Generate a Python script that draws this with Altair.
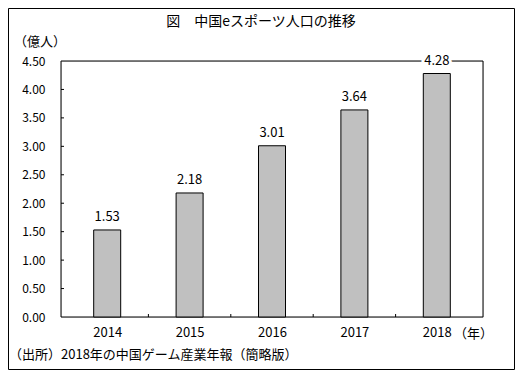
import altair as alt
import pandas as pd

years = [2014, 2015, 2016, 2017, 2018]
values = [1.53, 2.18, 3.01, 3.64, 4.28]
y_tick_values = [0.0, 0.5, 1.0, 1.5, 2.0, 2.5, 3.0, 3.5, 4.0, 4.5]
inner_y_ticks = [0.5, 1.0, 1.5, 2.0, 2.5, 3.0, 3.5, 4.0]
x_boundaries = [2014.5, 2015.5, 2016.5, 2017.5]

title_text = "図\u3000中国eスポーツ人口の推移"
unit_y = "（億人）"
unit_x = "（年）"
source_text = "（出所）2018年の中国ゲーム産業年報（簡略版）"

FONT = "Noto Sans CJK JP"
W, H = 422, 256
PL, PT, PR, PB = 53, 53, 32, 53

df = pd.DataFrame({"year": years, "value": values})
df_yt = pd.DataFrame({"v": inner_y_ticks})
df_xb = pd.DataFrame({"b": x_boundaries})
one = pd.DataFrame({"a": [0]})

xscale = alt.Scale(domain=[2013.5, 2018.5], nice=False, zero=False)
yscale = alt.Scale(domain=[0, 4.5], nice=False)

xaxis = alt.Axis(values=years, format="d", title=None, labelPadding=9,
                 labelFontSize=13, labelFont=FONT, labelColor="black",
                 labelOverlap=False, domain=False, ticks=False, grid=False)
yaxis = alt.Axis(values=y_tick_values, format=".2f", title=None, labelPadding=16,
                 labelFontSize=12, labelFont=FONT, labelColor="black",
                 labelOverlap=False, labelFlush=False,
                 domain=False, ticks=False, grid=False)

outer = alt.Chart(one).mark_rect(fillOpacity=0, stroke="black", strokeWidth=1).encode(
    x=alt.value(-PL + 0.5), x2=alt.value(W + PR - 0.5),
    y=alt.value(-PT + 0.5), y2=alt.value(H + PB - 0.5),
)
frame = alt.Chart(one).mark_rect(fillOpacity=0, stroke="black", strokeWidth=1).encode(
    x=alt.value(0), x2=alt.value(W), y=alt.value(0), y2=alt.value(H),
)

bars = alt.Chart(df).mark_bar(size=27, fill="#c0c0c0", stroke="black", strokeWidth=1).encode(
    x=alt.X("year:Q", scale=xscale, axis=xaxis),
    y=alt.Y("value:Q", scale=yscale, axis=yaxis),
)

yticks = alt.Chart(df_yt).mark_rule(color="black", strokeWidth=1).encode(
    y=alt.Y("v:Q", scale=yscale, axis=yaxis), x=alt.value(0), x2=alt.value(3),
)
xticks = alt.Chart(df_xb).mark_rule(color="black", strokeWidth=1).encode(
    x=alt.X("b:Q", scale=xscale, axis=xaxis), y=alt.value(H), y2=alt.value(H - 3),
)

halo = alt.Chart(df).mark_text(dy=-9, baseline="alphabetic", fontSize=13, font=FONT,
                               stroke="white", strokeWidth=6, fill="white").encode(
    x=alt.X("year:Q", scale=xscale, axis=xaxis), y=alt.Y("value:Q", scale=yscale, axis=yaxis),
    text=alt.Text("value:Q", format=".2f"),
)
labels = alt.Chart(df).mark_text(dy=-9, baseline="alphabetic", fontSize=13, font=FONT,
                                 color="black").encode(
    x=alt.X("year:Q", scale=xscale, axis=xaxis), y=alt.Y("value:Q", scale=yscale, axis=yaxis),
    text=alt.Text("value:Q", format=".2f"),
)

def txt(s, x, y, align="left", size=13):
    return alt.Chart(one).mark_text(text=s, align=align, baseline="middle",
                                    fontSize=size, font=FONT, color="black").encode(
        x=alt.value(x), y=alt.value(y))

t_title = txt(title_text, 200, -39, align="center", size=14)
t_unit_y = txt(unit_y, -47, -19)
t_unit_x = txt(unit_x, 393, 273)
t_source = txt(source_text, -52, 294)

chart = alt.layer(
    outer, frame, bars, yticks, xticks, halo, labels,
    t_title, t_unit_y, t_unit_x, t_source,
).properties(
    width=W, height=H,
    autosize=alt.AutoSizeParams(type="none"),
    padding={"left": PL, "top": PT, "right": PR, "bottom": PB},
).configure_view(stroke=None).configure(background="white")

chart.save("out.html", embed_options={"renderer": "svg", "actions": False})
